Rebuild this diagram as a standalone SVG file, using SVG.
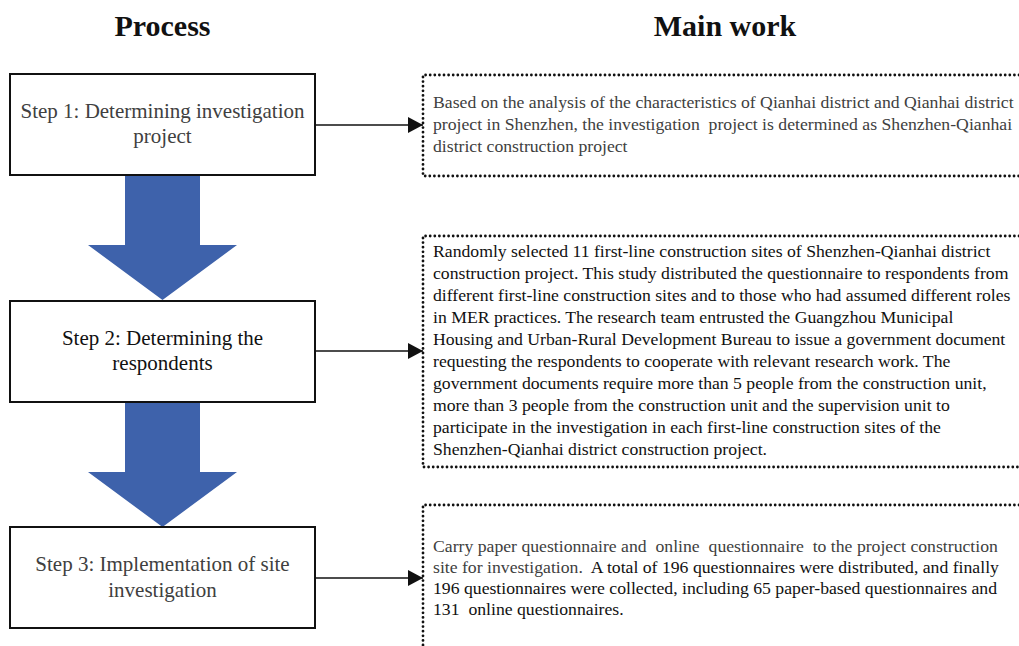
<svg xmlns="http://www.w3.org/2000/svg" width="1019" height="646" viewBox="0 0 1019 646">
<style>
.hdr{font-family:"Liberation Serif",serif;font-weight:bold;font-size:30px;fill:#111;text-anchor:middle}
.step{fill:#fff;stroke:#111;stroke-width:2}
.lbl{font-family:"Liberation Serif",serif;font-size:21px;text-anchor:middle}
.body{font-family:"Liberation Serif",serif;font-size:17.7px}
.gray{fill:#404040}
.blk{fill:#111}
.dots{fill:none;stroke:#111;stroke-width:2.8;stroke-linecap:round;stroke-dasharray:0 4.6}
.flow{fill:#3E62AB}
.conn{stroke:#111;stroke-width:1.5;fill:none}
</style>
<defs>
<marker id="ah" markerUnits="userSpaceOnUse" markerWidth="16" markerHeight="16" refX="15" refY="8" orient="auto">
<polygon points="0,0 15,8 0,16" fill="#111"/>
</marker>
</defs>

<text class="hdr" x="162.5" y="36">Process</text>
<text class="hdr" x="725" y="36">Main work</text>

<g id="flow-arrows">
<polygon class="flow" points="125,175 200,175 200,245 237,245 162.5,300 88,245 125,245"/>
<polygon class="flow" points="125,402 200,402 200,472 237,472 162.5,527 88,472 125,472"/>
</g>

<g id="step1">
<rect class="step" x="10" y="74" width="305" height="101"/>
<text class="lbl gray" x="162.5" y="118">Step 1: Determining investigation</text>
<text class="lbl gray" x="162.5" y="143">project</text>
</g>

<g id="step2">
<rect class="step" x="10" y="301" width="305" height="101"/>
<text class="lbl blk" x="162.5" y="345">Step 2: Determining the</text>
<text class="lbl blk" x="162.5" y="370">respondents</text>
</g>

<g id="step3">
<rect class="step" x="10" y="527" width="305" height="101"/>
<text class="lbl gray" x="162.5" y="571">Step 3: Implementation of site</text>
<text class="lbl gray" x="162.5" y="597">investigation</text>
</g>

<g id="work1">
<path class="dots" d="M1019,75 H423 V176 H1019"/>
<text class="body gray" xml:space="preserve"><tspan x="433" y="108">Based on the analysis of the characteristics of Qianhai district and Qianhai district</tspan><tspan x="433" y="130">project in Shenzhen, the investigation  project is determined as Shenzhen-Qianhai</tspan><tspan x="433" y="152">district construction project</tspan></text>
</g>

<g id="work2">
<path class="dots" d="M1019,236 H423 V467 H1019"/>
<text class="body blk"><tspan x="433" y="257">Randomly selected 11 first-line construction sites of Shenzhen-Qianhai district</tspan><tspan x="433" y="279">construction project. This study distributed the questionnaire to respondents from</tspan><tspan x="433" y="301">different first-line construction sites and to those who had assumed different roles</tspan><tspan x="433" y="323">in MER practices. The research team entrusted the Guangzhou Municipal</tspan><tspan x="433" y="345">Housing and Urban-Rural Development Bureau to issue a government document</tspan><tspan x="433" y="367">requesting the respondents to cooperate with relevant research work. The</tspan><tspan x="433" y="389">government documents require more than 5 people from the construction unit,</tspan><tspan x="433" y="411">more than 3 people from the construction unit and the supervision unit to</tspan><tspan x="433" y="433">participate in the investigation in each first-line construction sites of the</tspan><tspan x="433" y="455">Shenzhen-Qianhai district construction project.</tspan></text>
</g>

<g id="work3">
<path class="dots" d="M1019,505 H423 V646"/>
<text class="body" xml:space="preserve"><tspan class="gray" x="433" y="552">Carry paper questionnaire and  online  questionnaire  to the project construction</tspan><tspan class="gray" x="433" y="573">site for investigation. </tspan><tspan class="blk"> A total of 196 questionnaires were distributed, and finally</tspan><tspan class="blk" x="433" y="594">196 questionnaires were collected, including 65 paper-based questionnaires and</tspan><tspan class="blk" x="433" y="615">131  online questionnaires.</tspan></text>
</g>

<g id="connectors">
<line class="conn" x1="315" y1="125" x2="423" y2="125" marker-end="url(#ah)"/>
<line class="conn" x1="315" y1="351" x2="423" y2="351" marker-end="url(#ah)"/>
<line class="conn" x1="315" y1="578" x2="423" y2="578" marker-end="url(#ah)"/>
</g>
</svg>
